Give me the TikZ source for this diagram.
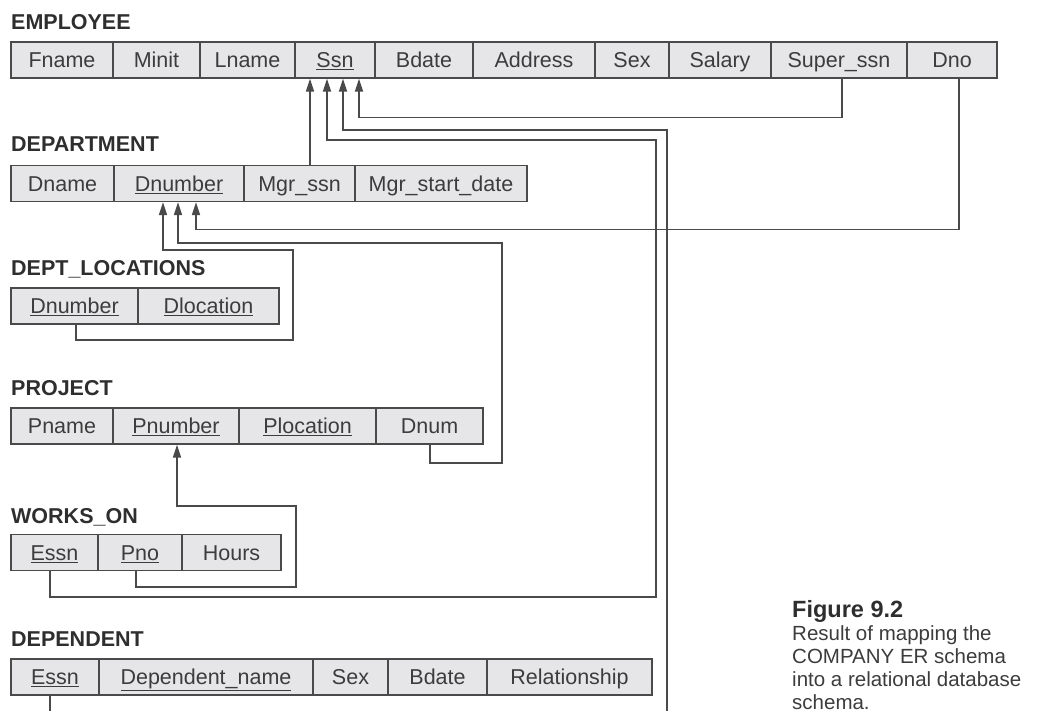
\documentclass[tikz,border=0pt]{standalone}
\usepackage{fontspec}
\setmainfont{Liberation Sans}
\usetikzlibrary{arrows.meta}
\definecolor{lc}{HTML}{4A4A4A}
\definecolor{cellfill}{HTML}{E6E6E9}
\definecolor{txt}{HTML}{3C3C3C}
\definecolor{ttlc}{HTML}{2E2E2E}
\begin{document}
\begin{tikzpicture}[x=1pt,y=-1pt,
  cell/.style={draw=lc, line width=1.4pt, fill=cellfill, minimum height=36pt,
    inner sep=0pt, text height=17.5pt, text depth=2.2pt, text=txt,
    font=\fontsize{21.5}{24}\selectfont},
  ttl/.style={anchor=base west, inner sep=0pt, text=ttlc,
    font=\bfseries\fontsize{21.5}{24}\selectfont},
  fk/.style={draw=lc, line width=1.6pt, -{Triangle[length=13pt,width=8pt]}},
  con/.style={draw=lc, line width=1.6pt}]
\useasboundingbox (0,0) rectangle (1041,711);
\clip (0,0) rectangle (1041,711);

% ---------------- EMPLOYEE
\node[ttl] (tEmp) at (11,30) {EMPLOYEE};
\node[cell, minimum width=102pt] (efname) at (62,60)    {Fname};
\node[cell, minimum width=87pt]  (eminit) at (156.5,60) {Minit};
\node[cell, minimum width=95pt]  (elname) at (247.5,60) {Lname};
\node[cell, minimum width=80pt]  (essn)   at (335,60)   {\underline{Ssn}};
\node[cell, minimum width=98pt]  (ebdate) at (424,60)   {Bdate};
\node[cell, minimum width=122pt] (eaddr)  at (534,60)   {Address};
\node[cell, minimum width=74pt]  (esex)   at (632,60)   {Sex};
\node[cell, minimum width=102pt] (esal)   at (720,60)   {Salary};
\node[cell, minimum width=136pt] (esup)   at (839,60)   {Super\_ssn};
\node[cell, minimum width=90pt]  (edno)   at (952,60)   {Dno};

% ---------------- DEPARTMENT
\node[ttl] (tDep) at (11,152) {DEPARTMENT};
\node[cell, minimum width=103pt] (ddname) at (62.5,183.5) {Dname};
\node[cell, minimum width=130pt] (ddnum)  at (179,183.5)  {\underline{Dnumber}};
\node[cell, minimum width=111pt] (dmgr)   at (299.5,183.5){Mgr\_ssn};
\node[cell, minimum width=172pt] (dmgrsd) at (441,183.5)  {Mgr\_start\_date};

% ---------------- DEPT_LOCATIONS
\node[ttl] (tLoc) at (11,276) {DEPT\_LOCATIONS};
\node[cell, minimum width=127pt] (ldnum) at (74.5,306)  {\underline{Dnumber}};
\node[cell, minimum width=141pt] (lloc)  at (208.5,306) {\underline{Dlocation}};

% ---------------- PROJECT
\node[ttl] (tPrj) at (11,395) {PROJECT};
\node[cell, minimum width=102pt] (ppname) at (62,426)    {Pname};
\node[cell, minimum width=126pt] (ppnum)  at (176,426)   {\underline{Pnumber}};
\node[cell, minimum width=137pt] (pploc)  at (307.5,426) {\underline{Plocation}};
\node[cell, minimum width=107pt] (pdnum)  at (429.5,426) {Dnum};

% ---------------- WORKS_ON
\node[ttl] (tWo) at (11,523) {WORKS\_ON};
\node[cell, minimum width=87pt] (wessn)  at (54.5,552.5)  {\underline{Essn}};
\node[cell, minimum width=84pt] (wpno)   at (140,552.5)   {\underline{Pno}};
\node[cell, minimum width=99pt] (whours) at (231.5,552.5) {Hours};

% ---------------- DEPENDENT
\node[ttl] (tDp) at (11,646) {DEPENDENT};
\node[cell, minimum width=88pt]  (dessn)  at (55,677)    {\underline{Essn}};
\node[cell, minimum width=214pt] (ddepn)  at (206,677)   {\underline{Dependent\_name}};
\node[cell, minimum width=75pt]  (dsex)   at (350.5,677) {Sex};
\node[cell, minimum width=99pt]  (dbdate) at (437.5,677) {Bdate};
\node[cell, minimum width=165pt] (drel)   at (569.5,677) {Relationship};

% ---------------- connectors to EMPLOYEE.Ssn
\draw[fk] ([xshift=3pt]esup.south) -- ++(0,39) -| ([xshift=24pt]essn.south);
\draw[fk] ([xshift=10.5pt]dmgr.north) -- ([xshift=-25pt]essn.south);
\draw[fk] ([xshift=-4.5pt]wessn.south) -- ++(0,26) -| (656,140) -| ([xshift=-8pt]essn.south);
\draw[fk] ([xshift=-5pt]dessn.south) -- ++(0,40) -| (667,130) -| ([xshift=8pt]essn.south);

% ---------------- connectors to DEPARTMENT.Dnumber
\draw[fk] ([xshift=7pt]edno.south) -- ++(0,151) -| ([xshift=17pt]ddnum.south);
\draw[fk] ([xshift=0.5pt]pdnum.south) -- ++(0,18) -| (502,243) -| ([xshift=-1pt]ddnum.south);
\draw[fk] ([xshift=1.5pt]ldnum.south) -- ++(0,15) -| (293,250) -| ([xshift=-16pt]ddnum.south);

% ---------------- connector to PROJECT.Pnumber
\draw[fk] ([xshift=-4pt]wpno.south) -- ++(0,16) -| (296,506) -| ([xshift=1pt]ppnum.south);

% ---------------- caption
\node[anchor=north west, inner sep=0pt, align=left, text=txt,
      font=\fontsize{20.5}{23}\selectfont] (cap) at (792,600)
  {{\bfseries\fontsize{23.5}{23}\selectfont\color{ttlc}Figure 9.2}\\Result of mapping the\\COMPANY ER schema\\into a relational database\\schema.};
\end{tikzpicture}
\end{document}
